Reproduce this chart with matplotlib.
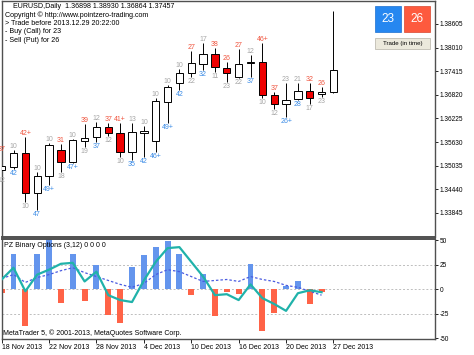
import numpy as np
import matplotlib
matplotlib.use("Agg")
import matplotlib.pyplot as plt
from matplotlib.patches import Rectangle

plt.rcParams['font.family'] = ['Liberation Sans', 'DejaVu Sans']

# daily EURUSD candles, 18 Nov 2013 .. 27 Dec 2013
opens = [1.34927, 1.35003, 1.35356, 1.34348, 1.34776, 1.35431, 1.35129, 1.35658,
         1.35759, 1.36010, 1.35859, 1.35381, 1.35859, 1.35658, 1.36640, 1.37119,
         1.37371, 1.37597, 1.37849, 1.37497, 1.37270, 1.37623, 1.37648, 1.36817,
         1.36590, 1.36716, 1.36917, 1.36842, 1.36898]
highs = [1.35356, 1.35431, 1.35759, 1.34877, 1.35607, 1.35582, 1.35708, 1.36086,
         1.36136, 1.36111, 1.36111, 1.36111, 1.36036, 1.36741, 1.37068, 1.37471,
         1.37925, 1.38126, 1.38000, 1.37648, 1.37975, 1.37824, 1.38126, 1.36892,
         1.37119, 1.37119, 1.37119, 1.37018, 1.38930]
lows = [1.34776, 1.34952, 1.34121, 1.33920, 1.34549, 1.34877, 1.35104, 1.35507,
        1.35633, 1.35784, 1.35255, 1.35179, 1.35255, 1.35381, 1.36111, 1.36942,
        1.37270, 1.37446, 1.37396, 1.37144, 1.37245, 1.37270, 1.36741, 1.36464,
        1.36262, 1.36691, 1.36590, 1.36766, 1.36864]
closes = [1.35028, 1.35356, 1.34348, 1.34776, 1.35557, 1.35129, 1.35683, 1.35733,
          1.36010, 1.35859, 1.35381, 1.35885, 1.35910, 1.36665, 1.37018, 1.37371,
          1.37623, 1.37849, 1.37522, 1.37371, 1.37597, 1.37648, 1.36817, 1.36590,
          1.36691, 1.36917, 1.36741, 1.36892, 1.37457]

# probability labels above / below each candle (r=red, g=gray, b=blue)
top_labels = ["37", "10", "42+", "10", "10", "31", "10", "39", "12", "37", "41+",
              "13", "10", "10", "10", "10", "27", "17", "38", "26", "27", "12",
              "46+", "37", "23", "21", "32", "26"]
top_kinds = ["r", "g", "r", "g", "g", "r", "g", "r", "g", "r", "r",
             "g", "g", "g", "g", "g", "r", "g", "r", "r", "r", "g",
             "r", "r", "g", "g", "r", "r"]
bot_labels = ["12", "42", "10", "47", "49+", "18", "47+", "19", "37", "12", "10",
              "35", "42", "46+", "49+", "42", "22", "32", "11", "23", "22", "37",
              "10", "12", "26+", "28", "17", "23"]
bot_kinds = ["g", "b", "g", "b", "b", "g", "b", "g", "b", "g", "g",
             "b", "b", "b", "b", "b", "g", "b", "g", "g", "g", "b",
             "g", "g", "b", "b", "g", "g"]

# PZ Binary Options oscillator
hist = [-4, 36, -37, 36, 55, -14, 36, -12, 25, -26, -34, 23, 35, 43, 49, 36,
        -6, 16, -27, -3, -5, 26, -43, -24, 3, 8, -15, -3]
fast = [10, 22, -2, 15, 20, 26, 27, 8, 18, -6, -11, -13, 9, 28, 42, 43,
        28, 13, -6, -5, -11, 5, -9, -15, -22, -4, -1, -3]
slow = [11, 15, 7, 12, 15, 19, 22, 17, 13, 9, 5, 2, 6, 15, 20, 18,
        13, 8, 9, 10, 8, 13, 10, 8, 4, 2, -2, -6]

dates = ["18 Nov 2013", "22 Nov 2013", "28 Nov 2013", "4 Dec 2013",
         "10 Dec 2013", "16 Dec 2013", "20 Dec 2013", "27 Dec 2013"]
date_bars = [0, 4, 8, 12, 16, 20, 24, 28]
price_ticks = [1.38605, 1.38010, 1.37415, 1.36820, 1.36225,
               1.35630, 1.35035, 1.34440, 1.33845]
osc_ticks = [50, 25, 0, -25, -50]

label_colors = {"r": "#f0553f", "g": "#a6a6a6", "b": "#3a8be6"}
W, H = 474, 355


def fx(px):
    return px / W


def fy(py):
    return 1 - py / H


fig = plt.figure(figsize=(4.74, 3.55), dpi=100)
ax = fig.add_axes([fx(1.5), fy(237), fx(434.5) - fx(1.5), fy(1) - fy(237)])
ax2 = fig.add_axes([fx(1.5), fy(338.5), fx(434.5) - fx(1.5), fy(239) - fy(338.5)],
                   sharex=ax)

x = np.arange(len(opens))
o = np.array(opens)
c = np.array(closes)
up = c >= o

ax.vlines(x, lows, highs, color="black", lw=0.7, zorder=2)
body_h = np.maximum(np.abs(c - o), 0.00004)
ax.bar(x, body_h, bottom=np.minimum(o, c), width=0.62,
       color=np.where(up, "white", "#ee0000"), edgecolor="black", lw=0.7, zorder=3)

for i in range(len(top_labels)):
    ax.annotate(top_labels[i], (x[i], highs[i]), xytext=(0, 1.6),
                textcoords="offset points", ha="center", va="baseline",
                fontsize=5, color=label_colors[top_kinds[i]])
    ax.annotate(bot_labels[i], (x[i], lows[i]), xytext=(0, -0.8),
                textcoords="offset points", ha="center", va="top",
                fontsize=5, color=label_colors[bot_kinds[i]])

ax.set_xlim(-0.013, -0.013 + 433 / 11.85)
ax.set_ylim(1.33240, 1.39184)
ax.yaxis.tick_right()
ax.set_yticks(price_ticks)
ax.set_yticklabels([f"{p:.5f}" for p in price_ticks])
ax.tick_params(axis="y", length=2.5, width=0.6, pad=1, labelsize=4.7)
ax.tick_params(axis="x", bottom=False, labelbottom=False)
for s in ax.spines.values():
    s.set_color("#505050")
    s.set_linewidth(1)
ax.spines["bottom"].set_linewidth(1.4)

# oscillator panel
xo = np.arange(len(hist))
h = np.array(hist)
for lvl in (25, 0, -25):
    ax2.axhline(lvl, color="#bdbdbd", lw=0.7, ls=(0, (2, 2)), zorder=0)
ax2.bar(xo, h, width=0.5, color=np.where(h >= 0, "#6495ed", "#ff6347"), zorder=2)
ax2.plot(xo, slow, color="#4a5be0", lw=0.9, ls=(0, (2, 1.6)), zorder=3)
ax2.plot(xo, fast, color="#20b2aa", lw=1.6, zorder=4)
ax2.set_ylim(-50.2, 51.3)
ax2.yaxis.tick_right()
ax2.set_yticks(osc_ticks)
ax2.set_yticklabels([str(v) for v in osc_ticks])
ax2.tick_params(axis="y", length=2.5, width=0.6, pad=1, labelsize=4.7)
ax2.set_xticks(date_bars)
ax2.set_xticklabels(dates, ha="left")
ax2.tick_params(axis="x", length=3, width=0.6, pad=1, labelsize=5)
for s in ax2.spines.values():
    s.set_color("#505050")
    s.set_linewidth(1)
ax2.spines["top"].set_linewidth(1.4)

ax2.text(0.006, 0.935, "PZ Binary Options (3,12) 0 0 0 0", transform=ax2.transAxes,
         fontsize=5, va="center", ha="left")
ax2.text(0.004, 0.05, "MetaTrader 5, \u00a9 2001-2013, MetaQuotes Software Corp.",
         transform=ax2.transAxes, fontsize=5, va="center", ha="left")

# chart header
header = [
    (13, 6.7, "EURUSD,Daily  1.36898 1.38930 1.36864 1.37457"),
    (5, 15.3, "Copyright \u00a9 http://www.pointzero-trading.com"),
    (5, 23.5, "> Trade before 2013.12.29 20:22:00"),
    (5, 31.7, "- Buy (Call) for 23"),
    (5, 40.0, "- Sell (Put) for 26"),
]
for px, py, t in header:
    fig.text(fx(px), fy(py), t, fontsize=5.1, va="center", ha="left")

# trade buttons
fig.patches.append(Rectangle((fx(375), fy(32)), fx(401) - fx(375), fy(6) - fy(32),
                             transform=fig.transFigure, facecolor="#2687f0",
                             edgecolor="#1c6fcf", lw=0.5))
fig.patches.append(Rectangle((fx(404), fy(32)), fx(430) - fx(404), fy(6) - fy(32),
                             transform=fig.transFigure, facecolor="#fd5a3e",
                             edgecolor="#d8472f", lw=0.5))
fig.text(fx(388), fy(19.5), "23", color="white", fontsize=8.5, ha="center", va="center")
fig.text(fx(417), fy(19.5), "26", color="white", fontsize=8.5, ha="center", va="center")
fig.patches.append(Rectangle((fx(375), fy(49)), fx(430) - fx(375), fy(38) - fy(49),
                             transform=fig.transFigure, facecolor="#ece9dc",
                             edgecolor="#b5b2a6", lw=0.5))
fig.text(fx(402.5), fy(43.5), "Trade (in time)", fontsize=4.4, ha="center", va="center")

fig.savefig("out.png", dpi=100)
